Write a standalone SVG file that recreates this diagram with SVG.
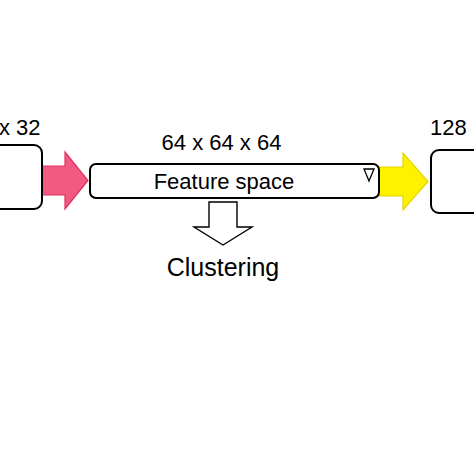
<svg xmlns="http://www.w3.org/2000/svg" width="474" height="474" viewBox="0 0 474 474">
<style>
.box{fill:#fff;stroke:#000;stroke-width:2}
.lbl{font-family:"Liberation Sans",Arial,sans-serif;font-size:22px;fill:#000}
</style>
<rect width="474" height="474" fill="#fff"/>
<g id="connectors">
<polygon id="arrow-pink" points="42,166 65,166 65,152 88,180.5 65,209 65,195 42,195" fill="#F25A82" stroke="#E0305C" stroke-width="1.2" stroke-linejoin="miter"/>
<polygon id="arrow-yellow" points="379,167 403,167 403,153 428,181.5 403,210 403,196 379,196" fill="#FFF200" stroke="#E3D400" stroke-width="1.2"/>
<polygon id="arrow-down" points="209,202 237,202 237,227 252,227 223,245 194,227 209,227" fill="#fff" stroke="#000" stroke-width="1.4"/>
</g>
<g id="node-input">
<rect class="box" x="-20" y="145" width="62" height="64" rx="8"/>
<text class="lbl" x="40.5" y="135" text-anchor="end">x 32</text>
</g>
<g id="node-feature">
<rect class="box" x="90" y="164" width="289" height="34" rx="6"/>
<text class="lbl" x="221.5" y="150" text-anchor="middle">64 x 64 x 64</text>
<text class="lbl" x="224" y="188.5" text-anchor="middle">Feature space</text>
<polygon points="364,169 374,169 369,181" fill="none" stroke="#000" stroke-width="1.3"/>
</g>
<g id="node-output">
<rect class="box" x="431" y="150" width="70" height="63" rx="8"/>
<text class="lbl" x="430" y="135">128</text>
</g>
<g id="node-clustering">
<text class="lbl" x="223" y="276" text-anchor="middle" style="font-size:25px">Clustering</text>
</g>
</svg>
